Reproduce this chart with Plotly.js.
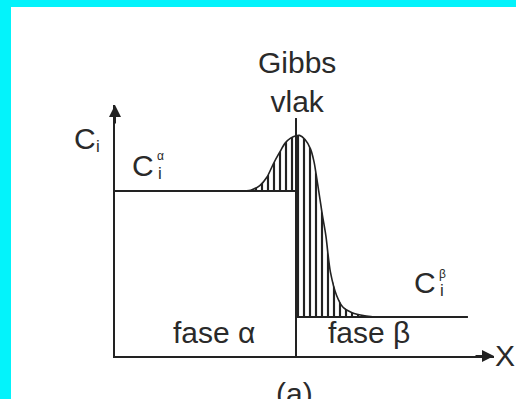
<!DOCTYPE html>
<html>
<head>
<meta charset="utf-8">
<script src="https://cdn.plot.ly/plotly-3.0.1.min.js"></script>
<style>
  html, body { margin: 0; padding: 0; width: 516px; height: 399px; overflow: hidden; background: #03F3FB; }
  #chart { position: absolute; left: 11px; top: 7px; width: 505px; height: 392px; background: #ffffff; }
</style>
</head>
<body>
<div id="chart"></div>
<script>
// Concentration profile C_i(x) of component i across an α/β interface,
// with the Gibbs dividing plane and the hatched surface excess.
const profileX = [6.9, 7.5, 8.0, 8.4, 8.75, 9.1, 9.4, 9.7, 10.0, 10.2, 10.5, 10.8, 11.0, 11.2, 11.45, 11.65, 11.9, 12.25, 12.6, 13.1, 13.8, 14.3];
const profileC = [10.0, 10.05, 10.33, 10.85, 11.65, 12.35, 12.9, 13.2, 13.35, 13.37, 13.12, 12.55, 11.75, 10.4, 8.6, 7.3, 5.1, 3.65, 2.95, 2.62, 2.43, 2.36];

const gibbsPlaneX = 10;     // position of the Gibbs plane
const levelAlpha = 10;      // bulk concentration C_i^α
const levelBeta = 2.36;     // bulk concentration C_i^β
const alphaStartX = 0;
const betaEndX = 19.5;
const planeTopC = 14.42;
const xMax = 20.94;
const cMax = 15.21;

const ink = '#222222';
const textInk = '#2a2a2a';
const font = 'Liberation Sans, Arial, sans-serif';

// Split the profile at the Gibbs plane: excess above C^α on the left, above C^β on the right.
const leftX = [], leftC = [], rightX = [], rightC = [];
profileX.forEach((x, k) => {
  if (x <= gibbsPlaneX) { leftX.push(x); leftC.push(profileC[k]); }
  if (x >= gibbsPlaneX) { rightX.push(x); rightC.push(profileC[k]); }
});

const hatch = { shape: '|', size: 6, solidity: 0.36, fgcolor: ink, bgcolor: 'rgba(255,255,255,0)' };

const traces = [
  { // hatched excess, α side
    x: leftX.concat([gibbsPlaneX, leftX[0]]),
    y: leftC.concat([levelAlpha, levelAlpha]),
    mode: 'lines', fill: 'toself', fillcolor: 'rgba(255,255,255,0)', fillpattern: hatch,
    line: { width: 0 }, hoverinfo: 'skip'
  },
  { // hatched excess, β side
    x: rightX.concat([rightX[rightX.length - 1], gibbsPlaneX]),
    y: rightC.concat([levelBeta, levelBeta]),
    mode: 'lines', fill: 'toself', fillcolor: 'rgba(255,255,255,0)', fillpattern: hatch,
    line: { width: 0 }, hoverinfo: 'skip'
  },
  { // C_i^α level
    x: [alphaStartX, gibbsPlaneX], y: [levelAlpha, levelAlpha],
    mode: 'lines', line: { color: ink, width: 2 }, hoverinfo: 'skip'
  },
  { // C_i^β level
    x: [gibbsPlaneX, betaEndX], y: [levelBeta, levelBeta],
    mode: 'lines', line: { color: ink, width: 2 }, hoverinfo: 'skip'
  },
  { // Gibbs plane
    x: [gibbsPlaneX, gibbsPlaneX], y: [0, planeTopC],
    mode: 'lines', line: { color: ink, width: 2 }, hoverinfo: 'skip'
  },
  { // real concentration profile
    x: profileX, y: profileC,
    mode: 'lines', line: { color: ink, width: 1.6, shape: 'spline', smoothing: 0.8 }, hoverinfo: 'skip'
  }
];

// label inside the axis ranges, placed in data units
function label(text, x, c, size) {
  return { text: text, x: x, y: c, xref: 'x', yref: 'y', showarrow: false,
           xanchor: 'center', yanchor: 'middle',
           font: { family: font, size: size, color: textInk } };
}
// label outside the axis ranges: same data units, expressed as paper fractions
function labelOut(text, x, c, size) {
  const a = label(text, x / xMax, c / cMax, size);
  a.xref = 'paper'; a.yref = 'paper';
  return a;
}

const annotations = [
  labelOut('Gibbs<br>vlak', 10.06, 16.6, 30),
  labelOut('C', -1.66, 13.15, 30),
  labelOut('i', -0.95, 12.70, 17),
  label('C', 1.55, 11.52, 30),
  label('α', 2.49, 12.12, 12),
  label('i', 2.49, 11.06, 17),
  label('C', 17.13, 4.45, 30),
  label('β', 18.07, 4.97, 12),
  label('i', 18.07, 3.94, 17),
  label('fase α', 5.47, 1.42, 30),
  label('fase β', 14.03, 1.42, 30),
  labelOut('X', 21.55, 0.06, 30),
  labelOut('(a)', 9.94, -2.28, 30),
  { // arrowhead of the concentration axis
    text: '', x: 0, y: 1, xref: 'paper', yref: 'paper', showarrow: true,
    arrowhead: 2, arrowsize: 1.2, arrowwidth: 2, arrowcolor: ink, ax: 0, ay: 20
  },
  { // arrowhead of the position axis
    text: '', x: 1, y: 0, xref: 'paper', yref: 'paper', showarrow: true,
    arrowhead: 2, arrowsize: 1.2, arrowwidth: 2, arrowcolor: ink, ax: -20, ay: 0
  }
];

const axisStyle = {
  showline: true, linecolor: ink, linewidth: 2, mirror: false,
  showgrid: false, zeroline: false, ticks: '', showticklabels: false, fixedrange: true
};

const layout = {
  width: 505, height: 392,
  margin: { l: 104, r: 22, t: 98, b: 43 },
  paper_bgcolor: '#ffffff', plot_bgcolor: '#ffffff',
  showlegend: false,
  xaxis: Object.assign({ range: [0, xMax] }, axisStyle),
  yaxis: Object.assign({ range: [0, cMax] }, axisStyle),
  annotations: annotations
};

Plotly.newPlot('chart', traces, layout, { displayModeBar: false, staticPlot: true });
</script>
</body>
</html>
